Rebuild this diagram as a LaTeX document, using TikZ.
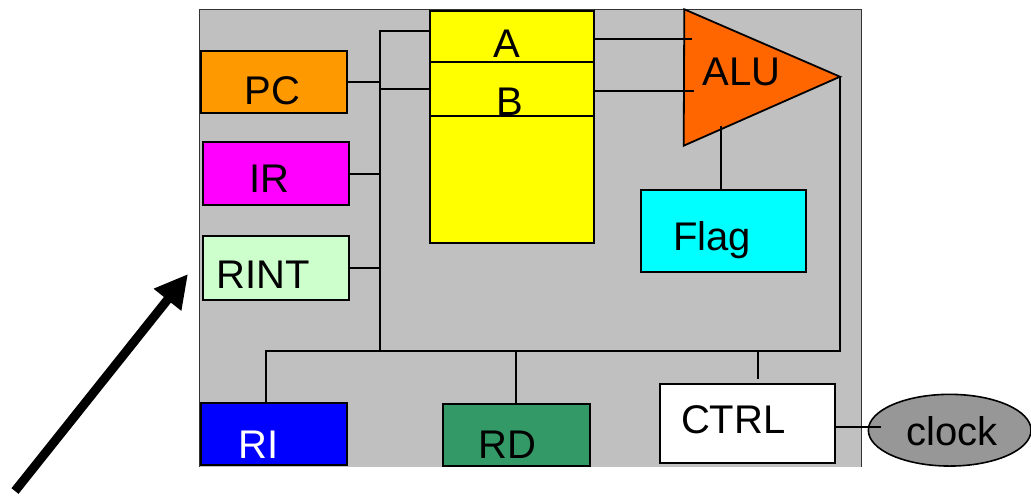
\documentclass[tikz,border=0pt]{standalone}
\usepackage{fontspec}
\setmainfont{Liberation Sans}
\usetikzlibrary{arrows.meta,shapes.geometric,calc}
\definecolor{panelgray}{HTML}{C0C0C0}
\definecolor{pcorange}{HTML}{FF9900}
\definecolor{irmag}{HTML}{FF00FF}
\definecolor{rintgreen}{HTML}{CCFFCC}
\definecolor{regyellow}{HTML}{FFFF00}
\definecolor{aluorange}{HTML}{FF6600}
\definecolor{flagcyan}{HTML}{00FFFF}
\definecolor{riblue}{HTML}{0000FF}
\definecolor{rdgreen}{HTML}{339966}
\definecolor{clockgray}{HTML}{979797}
\begin{document}
\begin{tikzpicture}[x=1pt,y=-1pt,
  blk/.style={draw=black, line width=2pt, inner sep=0pt, outer sep=0pt, anchor=north west},
  wire/.style={draw=black, line width=2pt},
  lbl/.style={inner sep=0pt, anchor=base, font=\fontsize{40}{44}\selectfont}]
\useasboundingbox (0,0) rectangle (1031,496);
% panel
\fill[panelgray] (199.5,9.7) rectangle (861.7,466.5);
\draw[line width=1.4pt, black!80] (199.5,466.5) -- (199.5,9.7) -- (861.7,9.7) -- (861.7,466.5);
% register file
\node[blk, fill=regyellow, minimum width=164.6pt, minimum height=51.3pt] (rega) at (429.7,10.7) {};
\node[blk, fill=regyellow, minimum width=164.6pt, minimum height=54pt] (regb) at (429.7,62) {};
\node[blk, fill=regyellow, minimum width=164.6pt, minimum height=127.3pt] (regc) at (429.7,116) {};
% left registers
\node[blk, fill=pcorange, minimum width=146.3pt, minimum height=62.6pt] (pc) at (201,50.7) {};
\node[blk, fill=irmag, minimum width=146.6pt, minimum height=63pt] (ir) at (202.7,142.3) {};
\node[blk, fill=rintgreen, minimum width=146.6pt, minimum height=63.7pt] (rint) at (202.7,236) {};
% bottom registers
\node[blk, fill=riblue, minimum width=146.3pt, minimum height=62.6pt] (ri) at (201,402.7) {};
\node[blk, fill=rdgreen, minimum width=146.7pt, minimum height=62pt] (rd) at (443.3,404.3) {};
\node[blk, fill=white, minimum width=174.7pt, minimum height=78.7pt] (ctrl) at (660.3,384) {};
\node[blk, fill=flagcyan, minimum width=165.3pt, minimum height=81.4pt] (flag) at (640.7,190.3) {};
% clock
\node[ellipse, draw=black, line width=1.6pt, fill=clockgray, minimum width=162.7pt, minimum height=71.7pt, inner sep=0pt] (clock) at (949.7,430.2) {};
% ALU
\coordinate (alutl) at (684.3,9.3);
\coordinate (alubl) at (683.7,145.7);
\coordinate (alutip) at (840,76.7);
\fill[aluorange, draw=black, line width=1.8pt, line join=miter] (alutl) -- (alutip) -- (alubl) -- cycle;
% labels
\node[lbl] (la) at (507,57.3) {A};
\node[lbl] (lb) at (510,115) {B};
\node[lbl] (lpc) at (272.7,104) {PC};
\node[lbl] (lir) at (269.3,192.3) {IR};
\node[lbl] (lrint) at (263,288.3) {RINT};
\node[lbl] (lalu) at (741.7,85) {ALU};
\node[lbl] (lflag) at (712,250.7) {Flag};
\node[lbl, text=white] (lri) at (258.3,458.3) {RI};
\node[lbl] (lrd) at (507.8,458.3) {RD};
\node[lbl] (lctrl) at (733.3,433.3) {CTRL};
\node[lbl] (lclock) at (951.7,445.7) {clock};
% bus coordinates
\coordinate (bt) at (380.3,30.7);
\coordinate (bm) at (380.3,89);
\coordinate (bb) at (380.3,351);
\coordinate (jri) at (266,351);
\coordinate (jrd) at (515.7,351);
\coordinate (jctrl) at (758,351);
\coordinate (jr) at (840,351);
\coordinate (alui1) at (691.7,39.3);
\coordinate (alui2) at (694,90.7);
\coordinate (aluo) at (720.7,125.7);
\coordinate (ck) at (881,427);
% wires
\draw[wire] (bt -| rega.west) -- (bt) -- (bb);
\draw[wire] (bm -| regb.west) -- (bm);
\draw[wire] (pc.east |- 0,82) -- (bt |- 0,82);
\draw[wire] (ir.east |- 0,173.7) -- (bt |- 0,173.7);
\draw[wire] (rint.east |- 0,268.3) -- (bt |- 0,268.3);
\draw[wire] (alui1 -| rega.east) -- (alui1);
\draw[wire] (alui2 -| regb.east) -- (alui2);
\draw[wire] (aluo) -- (aluo |- flag.north);
\draw[wire] (jri |- ri.north) -- (jri) -- (jr) -- (alutip);
\draw[wire] (jrd) -- (jrd |- rd.north);
\draw[wire] (jctrl) -- ($(jctrl |- ctrl.north)+(0,-4.7)$);
\draw[wire] (ck -| ctrl.east) -- (ck);
% big arrow
\coordinate (atail) at (15,491);
\coordinate (ahead) at (188,274);
\draw[line width=9pt, -{Triangle[length=33pt,width=33pt]}] (atail) -- (ahead);
\end{tikzpicture}
\end{document}
